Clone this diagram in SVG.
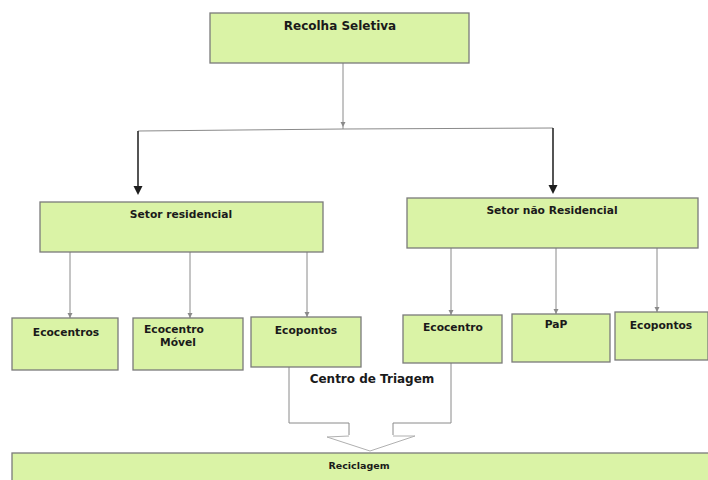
<svg xmlns="http://www.w3.org/2000/svg" width="708" height="480" viewBox="0 0 708 480">
<defs>
<style>
.box{fill:#daf3a6;stroke:#7a7a7a;stroke-width:1.3}
.t{font-family:"DejaVu Sans",Verdana,sans-serif;font-weight:bold;font-size:10.7px;fill:#1a1a1a;text-anchor:middle}
.big{font-size:12px}
.sm{font-size:9.5px}
.ln{fill:none;stroke:#8a8a8a;stroke-width:1}
.dk{fill:none;stroke:#2a2a2a;stroke-width:1.6}
.fl{fill:none;stroke:#b0b0b0;stroke-width:1}
.ah{fill:#1e1e1e}
.as{fill:#8a8a8a}
</style>
</defs>
<rect width="708" height="480" fill="#ffffff"/>
<g id="connectors">
<line class="ln" x1="343" y1="63" x2="343" y2="129"/>
<path class="as" d="M340.5,122 L345.5,122 L343,127 Z"/>
<polyline class="ln" points="138,131 343,129 553,128"/>
<line class="dk" x1="138" y1="131" x2="138" y2="187"/>
<path class="ah" d="M133.5,186 L142.5,186 L138,195 Z"/>
<line class="dk" x1="553" y1="128" x2="553" y2="186"/>
<path class="ah" d="M548.5,185 L557.5,185 L553,194 Z"/>
<line class="ln" x1="70" y1="252" x2="70" y2="318"/>
<path class="as" d="M67.5,313 L72.5,313 L70,318 Z"/>
<line class="ln" x1="190" y1="252" x2="190" y2="318"/>
<path class="as" d="M187.5,313 L192.5,313 L190,318 Z"/>
<line class="ln" x1="307" y1="252" x2="307" y2="317"/>
<path class="as" d="M304.5,312 L309.5,312 L307,317 Z"/>
<line class="ln" x1="451" y1="248" x2="451" y2="315"/>
<path class="as" d="M448.5,310 L453.5,310 L451,315 Z"/>
<line class="ln" x1="556" y1="248" x2="556" y2="314"/>
<path class="as" d="M553.5,309 L558.5,309 L556,314 Z"/>
<line class="ln" x1="657" y1="248" x2="657" y2="312"/>
<path class="as" d="M654.5,307 L659.5,307 L657,312 Z"/>
<polyline class="ln" points="289,367 289,423 349,423 349,435"/>
<polyline class="ln" points="451,363 451,423 393,423 393,435"/>
<polyline class="fl" points="349,436 327,437 370,451 415,436 393,436"/>
</g>
<g id="recolha"><rect class="box" x="210" y="13" width="259" height="50"/><text class="t big" x="340" y="30">Recolha Seletiva</text></g>
<g id="setor-residencial"><rect class="box" x="40" y="202" width="283" height="50"/><text class="t" x="181" y="218">Setor residencial</text></g>
<g id="setor-nao-residencial"><rect class="box" x="407" y="198" width="291" height="50"/><text class="t" x="552" y="214">Setor não Residencial</text></g>
<g id="ecocentros"><rect class="box" x="12" y="318" width="106" height="52"/><text class="t" x="66" y="336">Ecocentros</text></g>
<g id="ecocentro-movel"><rect class="box" x="133" y="318" width="110" height="52"/><text class="t" x="174" y="333">Ecocentro</text><text class="t" x="178" y="346">Móvel</text></g>
<g id="ecopontos-1"><rect class="box" x="251" y="317" width="110" height="50"/><text class="t" x="306" y="334">Ecopontos</text></g>
<g id="ecocentro"><rect class="box" x="403" y="315" width="99" height="48"/><text class="t" x="453" y="331">Ecocentro</text></g>
<g id="pap"><rect class="box" x="512" y="314" width="98" height="48"/><text class="t" x="556" y="328">PaP</text></g>
<g id="ecopontos-2"><rect class="box" x="615" y="312" width="93" height="48"/><text class="t" x="661" y="329">Ecopontos</text></g>
<g id="centro-triagem"><text class="t big" x="372" y="383">Centro de Triagem</text></g>
<g id="reciclagem"><rect class="box" x="12" y="453" width="700" height="40"/><text class="t sm" x="359" y="469">Reciclagem</text></g>
</svg>
